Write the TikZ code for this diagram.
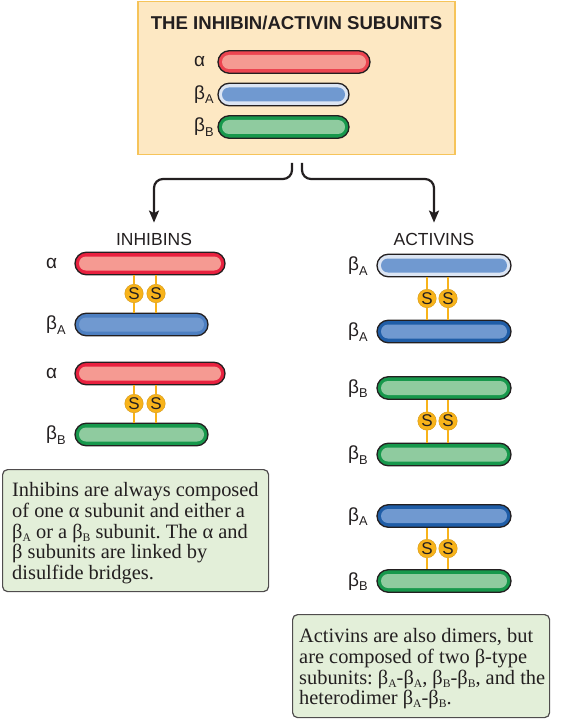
\documentclass[tikz,border=0pt]{standalone}
\usepackage{fontspec}
\setmainfont{Liberation Serif}
\newfontfamily\lsans{Liberation Sans}
\usetikzlibrary{shapes.misc,arrows.meta}
\frenchspacing

\definecolor{boxfill}{HTML}{FDE8C3}
\definecolor{boxedge}{HTML}{F6C45A}
\definecolor{redring}{HTML}{E8213F}
\definecolor{toprring}{HTML}{EC4450}
\definecolor{redin}{HTML}{F59A92}
\definecolor{paleblue}{HTML}{DCE5F3}
\definecolor{bluein}{HTML}{7099D0}
\definecolor{bluemid}{HTML}{4D7FC1}
\definecolor{bluedark}{HTML}{1F5DA7}
\definecolor{greenring}{HTML}{17984C}
\definecolor{greenin}{HTML}{8FCB9F}
\definecolor{sgold}{HTML}{F8B31A}
\definecolor{noteg}{HTML}{E3EFD9}
\definecolor{inkc}{HTML}{231F20}

\newcommand\lsub[1]{\raisebox{-4.5pt}{\fontsize{12.8}{12.8}\selectfont #1}}
\newcommand\tsub[1]{\raisebox{-3pt}{\fontsize{11.6}{11.6}\selectfont #1}}

\tikzset{
  barout/.style={rounded rectangle, draw=inkc, line width=1.3pt, inner sep=0pt, minimum height=22.5pt},
  barin/.style={rounded rectangle, inner sep=0pt, minimum height=14pt},
  lab/.style={anchor=base west, inner sep=0pt, text=inkc, font=\lsans\fontsize{19}{19}\selectfont},
  head/.style={anchor=base, inner sep=0pt, text=inkc, font=\lsans\fontsize{17.5}{17.5}\selectfont},
  sball/.style={circle, fill=sgold, draw=sgold!85!black, line width=0.4pt, minimum size=18.5pt, inner sep=0pt, text=inkc, font=\lsans\fontsize{17}{17}\selectfont},
  sline/.style={draw=sgold, line width=2pt},
  brarrow/.style={draw=inkc, line width=2.2pt, rounded corners=9pt, -{Stealth[length=12pt,width=10pt,inset=2.5pt]}},
  topbox/.style={rectangle, fill=boxfill, draw=boxedge, line width=1.5pt, inner sep=0pt},
  notebox/.style={rectangle, rounded corners=5pt, fill=noteg, draw=inkc!80, line width=1.2pt, inner sep=0pt},
  notetext/.style={anchor=north west, inner sep=0pt, align=left, text=inkc, font=\fontsize{20.4}{20.6}\selectfont}
}

% name, x1, x2, yc, ring, inner
\newcommand\molbar[6]{%
  \node[barout, fill=#5, minimum width={#3-#2}] (#1) at ({(#2+#3)/2},#4) {};
  \node[barin, fill=#6, minimum width={#3-#2-8}] (#1in) at (#1.center) {};
}
% S bridge: name, x, y, upper bar, lower bar
\newcommand\sbond[5]{%
  \node[sball] (#1) at (#2,#3) {S};
  \draw[sline] (#1.north) -- (#1.north |- #4.south);
  \draw[sline] (#1.south) -- (#1.south |- #5.north);
}

\begin{document}
\begin{tikzpicture}[x=1pt,y=-1pt]
\useasboundingbox (0,0) rectangle (560,719);

% top box
\node[topbox, minimum width=317pt, minimum height=153pt, anchor=north west] (top) at (137,1) {};
\node[anchor=base, inner sep=0pt, text=inkc, font=\lsans\bfseries\fontsize{18.6}{18.6}\selectfont] (ttl) at (296.5,30) {THE INHIBIN/ACTIVIN SUBUNITS};
\molbar{ta}{218}{370}{62}{toprring}{redin}
\molbar{tba}{218}{349}{94.5}{paleblue}{bluein}
\molbar{tbb}{218}{349}{127}{greenring}{greenin}
\node[lab] (tla) at (194,67) {α};
\node[lab] (tlba) at (194,99.5) {β\lsub{A}};
\node[lab] (tlbb) at (194,132) {β\lsub{B}};

% headings
\node[head] (inh) at (154,245) {INHIBINS};
\node[head] (act) at (434,245) {ACTIVINS};

% arrows
\coordinate (lstart) at (292,163);
\coordinate (rstart) at (302,163);
\draw[brarrow] (lstart) -- ++(0,16) -| ([yshift=10pt]inh.north);
\draw[brarrow] (rstart) -- ++(0,16) -| ([yshift=10pt]act.north);

% inhibins
\molbar{ia1}{75}{225}{263.5}{redring}{redin}
\molbar{ib1}{75}{208}{324.5}{bluemid}{bluein}
\molbar{ia2}{75}{225}{373.5}{redring}{redin}
\molbar{ib2}{75}{208}{434.5}{greenring}{greenin}
\node[lab] (ila1) at (46,268.5) {α};
\node[lab] (ilb1) at (46,329.5) {β\lsub{A}};
\node[lab] (ila2) at (46,378.5) {α};
\node[lab] (ilb2) at (46,439.5) {β\lsub{B}};
\sbond{is1}{134}{293.5}{ia1}{ib1}
\sbond{is2}{156}{293.5}{ia1}{ib1}
\sbond{is3}{134}{403.5}{ia2}{ib2}
\sbond{is4}{156}{403.5}{ia2}{ib2}

% activins
\molbar{aa1}{377}{511}{265.5}{paleblue}{bluein}
\molbar{aa2}{377}{511}{331.5}{bluedark}{bluein}
\molbar{ab1}{377}{511}{388}{greenring}{greenin}
\molbar{ab2}{377}{511}{454.5}{greenring}{greenin}
\molbar{aa3}{377}{511}{516}{bluedark}{bluein}
\molbar{ab3}{377}{511}{581}{greenring}{greenin}
\node[lab] (ala1) at (348,270.5) {β\lsub{A}};
\node[lab] (ala2) at (348,336.5) {β\lsub{A}};
\node[lab] (alb1) at (348,393) {β\lsub{B}};
\node[lab] (alb2) at (348,459.5) {β\lsub{B}};
\node[lab] (ala3) at (348,521) {β\lsub{A}};
\node[lab] (alb3) at (348,586) {β\lsub{B}};
\sbond{as1}{427}{298.5}{aa1}{aa2}
\sbond{as2}{448}{298.5}{aa1}{aa2}
\sbond{as3}{427}{421}{ab1}{ab2}
\sbond{as4}{448}{421}{ab1}{ab2}
\sbond{as5}{427}{548.5}{aa3}{ab3}
\sbond{as6}{448}{548.5}{aa3}{ab3}

% notes
\node[notebox, minimum width=266pt, minimum height=122pt, anchor=north west] (inote) at (2,469) {};
\node[notetext] (inotetxt) at (12,482.6) {Inhibins are always composed\\of one α subunit and either a\\β\tsub{A} or a β\tsub{B} subunit. The α and\\β subunits are linked by\\disulfide bridges.};
\node[notebox, minimum width=257pt, minimum height=103pt, anchor=north west] (anote) at (292,614) {};
\node[notetext] (anotetxt) at (299,628.6) {Activins are also dimers, but\\are composed of two β-type\\subunits: β\tsub{A}-β\tsub{A}, β\tsub{B}-β\tsub{B}, and the\\heterodimer β\tsub{A}-β\tsub{B}.};
\end{tikzpicture}
\end{document}
